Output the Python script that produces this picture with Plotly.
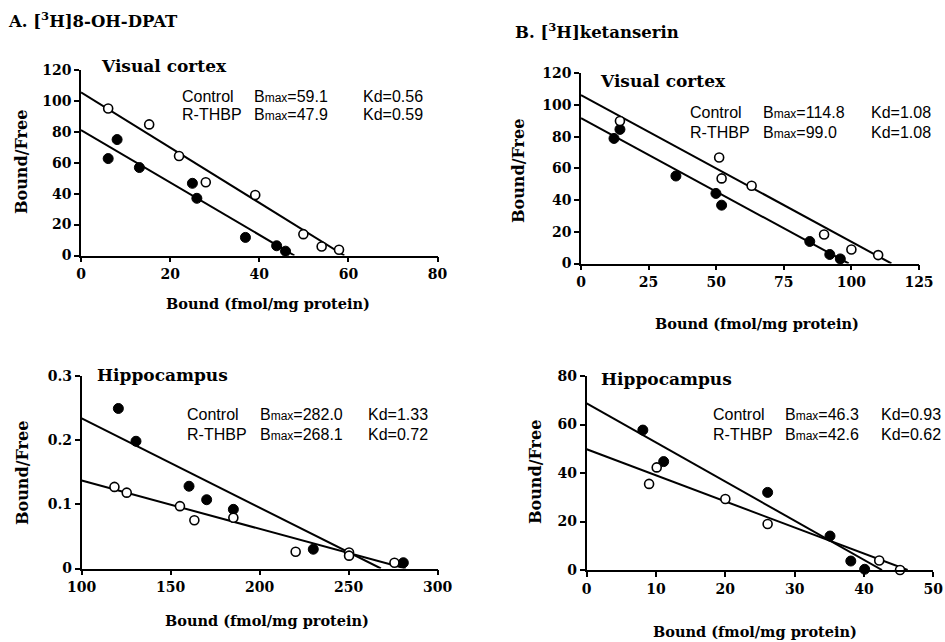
import plotly.graph_objects as go

W, H = 945, 642

# ---- data ----
# Panel A top: [3H]8-OH-DPAT, Visual cortex
a1_ctrl_x = [6.1, 15.3, 22.0, 28.0, 39.1, 49.9, 54.0, 57.9]
a1_ctrl_y = [95.1, 84.8, 64.4, 47.4, 39.1, 13.8, 5.8, 3.7]
a1_thbp_x = [6.1, 8.1, 13.1, 25.0, 26.0, 36.9, 43.9, 45.9]
a1_thbp_y = [62.7, 75.0, 56.9, 46.7, 37.0, 11.7, 6.3, 2.8]
a1_bmax = [59.1, 47.9]
a1_kd = [0.56, 0.59]

# Panel B top: [3H]ketanserin, Visual cortex
b1_ctrl_x = [14.4, 51.1, 52.0, 63.1, 89.9, 100.0, 109.9]
b1_ctrl_y = [89.9, 66.9, 53.7, 49.1, 18.3, 8.8, 5.3]
b1_thbp_x = [12.2, 14.4, 35.1, 49.9, 52.0, 84.6, 92.0, 95.9]
b1_thbp_y = [78.9, 84.6, 55.2, 44.2, 36.8, 13.9, 5.7, 2.9]
b1_bmax = [114.8, 99.0]
b1_kd = [1.08, 1.08]

# Panel A bottom: [3H]8-OH-DPAT, Hippocampus
a2_ctrl_x = [118.4, 125.3, 155.2, 163.3, 185.2, 220.2, 250.2, 250.2, 275.7]
a2_ctrl_y = [0.127, 0.118, 0.097, 0.075, 0.079, 0.026, 0.025, 0.020, 0.009]
a2_thbp_x = [120.6, 130.5, 160.3, 170.2, 185.2, 230.1, 280.7]
a2_thbp_y = [0.249, 0.198, 0.128, 0.107, 0.092, 0.030, 0.009]
a2_bmax = [282.0, 268.1]
a2_kd = [1.33, 0.72]

# Panel B bottom: [3H]ketanserin, Hippocampus
b2_ctrl_x = [9.0, 10.1, 20.0, 26.1, 42.2, 45.2]
b2_ctrl_y = [35.5, 42.3, 29.3, 19.0, 3.9, 0.0]
b2_thbp_x = [8.1, 11.1, 26.1, 35.1, 38.1, 40.1]
b2_thbp_y = [57.7, 44.7, 32.0, 14.0, 3.7, 0.3]
b2_bmax = [46.3, 42.6]
b2_kd = [0.93, 0.62]

SERIF = "DejaVu Serif"
SANS = "Liberation Sans"


def px_x(p):
    return p / W


def px_y(p):
    return 1 - p / H


fig = go.Figure()

panels = [
    dict(ax="", cx=a1_ctrl_x, cy=a1_ctrl_y, tx=a1_thbp_x, ty=a1_thbp_y, bmax=a1_bmax, kd=a1_kd,
         x0=0, scale=1, xr=[0, 80], yr=[0, 120], xd=20, yd=20, xdom=(81, 437.5), ydom=(255.5, 70),
         yfmt=None),
    dict(ax="2", cx=b1_ctrl_x, cy=b1_ctrl_y, tx=b1_thbp_x, ty=b1_thbp_y, bmax=b1_bmax, kd=b1_kd,
         x0=0, scale=1, xr=[0, 125], yr=[0, 120], xd=25, yd=20, xdom=(581, 919), ydom=(263.5, 73.3),
         yfmt=None),
    dict(ax="3", cx=a2_ctrl_x, cy=a2_ctrl_y, tx=a2_thbp_x, ty=a2_thbp_y, bmax=a2_bmax, kd=a2_kd,
         x0=100, scale=1000, xr=[100, 300], yr=[0, 0.3], xd=50, yd=0.1, xdom=(81.7, 437.7), ydom=(568.5, 375.7),
         yfmt="0.3"),
    dict(ax="4", cx=b2_ctrl_x, cy=b2_ctrl_y, tx=b2_thbp_x, ty=b2_thbp_y, bmax=b2_bmax, kd=b2_kd,
         x0=0, scale=1, xr=[0, 50], yr=[0, 80], xd=10, yd=20, xdom=(586.7, 933.3), ydom=(570, 376),
         yfmt=None),
]

for p in panels:
    xa = "x" + p["ax"]
    ya = "y" + p["ax"]
    # Scatchard lines: B/F = (Bmax - B)/Kd
    for bm, kd in zip(p["bmax"], p["kd"]):
        lx = [p["x0"], bm]
        ly = [(bm - p["x0"]) / kd / p["scale"], 0]
        fig.add_trace(go.Scatter(x=lx, y=ly, mode="lines", xaxis=xa, yaxis=ya,
                                 line=dict(color="black", width=2), showlegend=False,
                                 cliponaxis=False, hoverinfo="skip"))
    fig.add_trace(go.Scatter(x=p["tx"], y=p["ty"], mode="markers", xaxis=xa, yaxis=ya,
                             marker=dict(size=10, color="black", line=dict(color="black", width=1)),
                             showlegend=False, cliponaxis=False, name="R-THBP"))
    fig.add_trace(go.Scatter(x=p["cx"], y=p["cy"], mode="markers", xaxis=xa, yaxis=ya,
                             marker=dict(size=9, color="white", line=dict(color="black", width=1.6)),
                             showlegend=False, cliponaxis=False, name="Control"))

    axis_common = dict(showgrid=False, zeroline=False, showline=True, linecolor="black", linewidth=1.6,
                       ticks="outside", ticklen=5, tickwidth=1.5, tickcolor="black", automargin=False,
                       tickfont=dict(family=SERIF, size=14, color="black", weight="bold"))
    xkey = "xaxis" + p["ax"]
    ykey = "yaxis" + p["ax"]
    fig.layout[xkey] = dict(axis_common, domain=[px_x(p["xdom"][0]), px_x(p["xdom"][1])],
                            range=p["xr"], dtick=p["xd"], tick0=p["xr"][0], anchor=ya)
    ydict = dict(axis_common, domain=[px_y(p["ydom"][0]), px_y(p["ydom"][1])],
                 range=p["yr"], dtick=p["yd"], tick0=0, anchor=xa)
    if p["yfmt"]:
        ydict["tickvals"] = [0, 0.1, 0.2, 0.3]
        ydict["ticktext"] = ["0", "0.1", "0.2", "0.3"]
    fig.layout[ykey] = ydict

annotations = []


def add_text(text, x, y, size=13, family=SERIF, bold=True, xanchor="left", angle=0):
    annotations.append(dict(text=text, x=px_x(x), y=px_y(y), xref="paper", yref="paper",
                            xanchor=xanchor, yanchor="middle", showarrow=False, textangle=angle,
                            font=dict(family=family, size=size, color="black",
                                      weight="bold" if bold else "normal")))


# panel titles
add_text("A. [<sup>3</sup>H]8-OH-DPAT", 6, 20, size=16.5)
add_text("B. [<sup>3</sup>H]ketanserin", 513, 31, size=16.5)

# subtitles
add_text("Visual cortex", 99, 66, size=17)
add_text("Visual cortex", 598, 81, size=17)
add_text("Hippocampus", 95, 375, size=17)
add_text("Hippocampus", 599, 379, size=17)

# axis titles
xt = "Bound (fmol/mg protein)"
add_text(xt, 268, 303, size=14.5, xanchor="center")
add_text(xt, 757, 323, size=14.5, xanchor="center")
add_text(xt, 267, 620, size=14.5, xanchor="center")
add_text(xt, 755, 631, size=14.5, xanchor="center")
yt = "Bound/Free"
add_text(yt, 22, 162, size=16, xanchor="center", angle=-90)
add_text(yt, 519, 171, size=16, xanchor="center", angle=-90)
add_text(yt, 22, 473, size=16, xanchor="center", angle=-90)
add_text(yt, 535, 472, size=16, xanchor="center", angle=-90)


def bmax(v):
    return "B<span style='font-size:12px'>max</span>=" + v


stats = [
    (180, 252, 361, 96, 115, ("59.1", "0.56"), ("47.9", "0.59")),
    (688, 761, 869, 112, 132, ("114.8", "1.08"), ("99.0", "1.08")),
    (185, 258, 366, 414, 434, ("282.0", "1.33"), ("268.1", "0.72")),
    (711, 783, 879, 414, 434, ("46.3", "0.93"), ("42.6", "0.62")),
]
for cx, bx, kx, y1, y2, r1, r2 in stats:
    add_text("Control", cx, y1, size=16, family=SANS, bold=False)
    add_text(bmax(r1[0]), bx, y1, size=16, family=SANS, bold=False)
    add_text("Kd=" + r1[1], kx, y1, size=16, family=SANS, bold=False)
    add_text("R-THBP", cx, y2, size=16, family=SANS, bold=False)
    add_text(bmax(r2[0]), bx, y2, size=16, family=SANS, bold=False)
    add_text("Kd=" + r2[1], kx, y2, size=16, family=SANS, bold=False)

fig.update_layout(width=W, height=H, margin=dict(l=0, r=0, t=0, b=0),
                  paper_bgcolor="white", plot_bgcolor="white",
                  annotations=annotations, showlegend=False)

fig.write_html("out.html")
